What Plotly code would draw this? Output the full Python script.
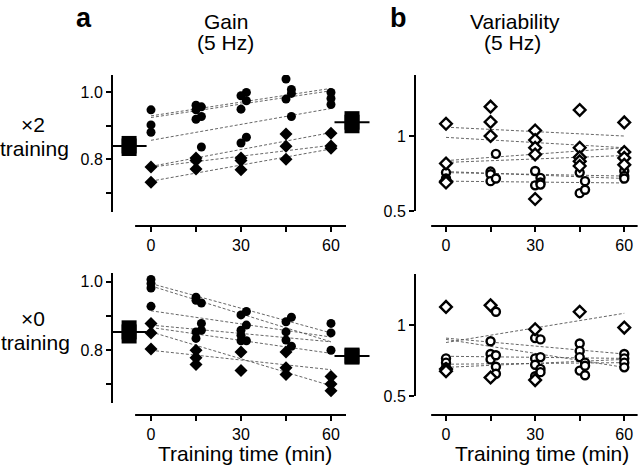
import plotly.graph_objects as go

W, H = 640, 466
FONT = "Liberation Sans, Arial, sans-serif"

# ---- data ----
# Gain x2 training (filled markers)
gain2_circ_t = [0, 0, 0, 15, 15, 15, 16.8, 16.8, 16.8, 30, 30, 31.8, 31.8, 31.8, 30, 45, 45, 46.8, 46.8, 46.8, 60, 60, 60]
gain2_circ_v = [0.948, 0.903, 0.881, 0.962, 0.948, 0.920, 0.957, 0.928, 0.837, 0.990, 0.950, 1.000, 0.975, 0.866, 0.849, 1.040, 0.980, 1.009, 0.997, 0.928, 1.000, 0.982, 0.964]
gain2_diam_t = [0, 0, 15, 15, 15, 30, 30, 30, 45, 45, 45, 60, 60, 60]
gain2_diam_v = [0.777, 0.732, 0.804, 0.797, 0.771, 0.804, 0.797, 0.769, 0.876, 0.839, 0.800, 0.878, 0.840, 0.833]
gain2_fit0 = [0.930, 0.925, 0.857, 0.779, 0.777, 0.735]
gain2_fit60 = [1.012, 1.005, 0.952, 0.880, 0.842, 0.831]
gain2_mean_t = [-7.3, 67]
gain2_mean_v = [0.840, 0.911]
gain2_mean_err = [0.030, 0.033]

# Variability x2 training (open markers)
var2_diam_t = [0, 0, 0, 0, 15, 15, 15, 30, 30, 30, 30, 30, 45, 45, 45, 45, 45, 60, 60, 60, 60]
var2_diam_v = [1.082, 0.817, 0.699, 0.690, 1.196, 1.094, 1.000, 1.037, 0.973, 0.922, 0.877, 0.580, 1.174, 0.922, 0.858, 0.831, 0.800, 1.091, 0.893, 0.854, 0.808]
var2_circ_t = [0, 0, 15, 15, 15, 16.8, 16.8, 30, 30, 31.8, 31.8, 31.8, 45, 45, 46.8, 46.8, 60, 60, 60]
var2_circ_v = [0.756, 0.717, 0.763, 0.745, 0.699, 0.881, 0.717, 0.767, 0.671, 0.721, 0.690, 0.676, 0.756, 0.619, 0.699, 0.642, 0.767, 0.733, 0.717]
var2_fit0 = [1.059, 0.991, 0.836, 0.824, 0.763, 0.756, 0.699]
var2_fit60 = [1.000, 0.922, 0.922, 0.870, 0.717, 0.733, 0.687]

# Gain x0 training (filled markers)
gain0_circ_t = [0, 0, 0, 0, 15, 15, 15, 15, 16.8, 16.8, 16.8, 30, 30, 30, 30, 31.8, 31.8, 31.8, 45, 45, 45, 46.8, 46.8, 60, 60, 60]
gain0_circ_v = [1.007, 0.995, 0.982, 0.928, 0.955, 0.946, 0.853, 0.834, 0.938, 0.878, 0.858, 0.903, 0.858, 0.843, 0.827, 0.913, 0.873, 0.827, 0.883, 0.853, 0.829, 0.896, 0.811, 0.878, 0.850, 0.799]
gain0_diam_t = [0, 0, 0, 15, 15, 15, 30, 30, 45, 45, 45, 60, 60, 60]
gain0_diam_v = [0.878, 0.850, 0.803, 0.799, 0.777, 0.757, 0.794, 0.740, 0.794, 0.748, 0.728, 0.722, 0.700, 0.680]
gain0_fit0 = [0.995, 0.988, 0.915, 0.873, 0.866, 0.853, 0.799]
gain0_fit60 = [0.850, 0.824, 0.838, 0.824, 0.790, 0.695, 0.742]
gain0_mean_t = [-7.3, 67]
gain0_mean_v = [0.853, 0.782]
gain0_mean_err = [0.034, 0.025]

# Variability x0 training (open markers)
var0_diam_t = [0, 0, 0, 15, 15, 30, 30, 45, 60]
var0_diam_v = [1.128, 0.690, 0.675, 1.139, 0.630, 0.971, 0.612, 1.094, 0.982]
var0_circ_t = [0, 0, 0, 15, 15, 15, 16.8, 16.8, 16.8, 16.8, 30, 30, 30, 30, 31.8, 31.8, 31.8, 31.8, 45, 45, 45, 45, 46.8, 46.8, 46.8, 60, 60, 60, 60]
var0_circ_v = [0.765, 0.735, 0.702, 0.886, 0.796, 0.758, 1.094, 0.787, 0.706, 0.657, 0.908, 0.765, 0.720, 0.639, 0.899, 0.774, 0.691, 0.668, 0.870, 0.818, 0.774, 0.679, 0.735, 0.713, 0.646, 0.796, 0.765, 0.735, 0.702]
var0_fit0 = [0.877, 0.908, 0.899, 0.780, 0.724, 0.702]
var0_fit60 = [1.083, 0.796, 0.702, 0.765, 0.735, 0.758]

x_ticks = [0, 15, 30, 45, 60]
x_ticktext = ["0", "", "30", "", "60"]

fig = go.Figure()


def px_x(p):
    return p / W


def px_y(p):
    return 1 - p / H


# panel layout: (axis suffix, x dom px, y dom px (top,bottom), x range, y range, y-line range, x-line range, yticks)
panels = [
    ("", (112, 400), (75, 226), (-13, 83), (0.601, 1.052), (0.643, 1.052), (-5.3, 65),
     [0.7, 0.8, 0.9, 1.0], ["", "0.8", "", "1.0"]),
    ("2", (415, 640), (75, 226), (-10.44, 65.3), (0.40, 1.407), (0.5, 1.407), (-5, 64.5),
     [0.5, 1.0], ["0.5", "1"]),
    ("3", (112, 400), (273, 415), (-13, 83), (0.609, 1.026), (0.644, 1.026), (-5.3, 65),
     [0.7, 0.8, 0.9, 1.0], ["", "0.8", "", "1.0"]),
    ("4", (415, 640), (274, 415), (-10.44, 65.3), (0.366, 1.36), (0.5, 1.36), (-5, 64.5),
     [0.5, 1.0], ["0.5", "1"]),
]

axis_font = dict(family=FONT, size=16, color="black")
for name, xd, yd, xr, yr, yl, xl, ytv, ytt in panels:
    fig.layout["xaxis" + name] = dict(
        domain=[px_x(xd[0]), px_x(xd[1])], range=list(xr), anchor="y" + name,
        showgrid=False, zeroline=False, showline=False,
        tickvals=x_ticks, ticktext=x_ticktext, ticks="outside", ticklen=5,
        tickwidth=1.5, tickcolor="black", tickfont=axis_font,
    )
    fig.layout["yaxis" + name] = dict(
        domain=[px_y(yd[1]), px_y(yd[0])], range=list(yr), anchor="x" + name,
        showgrid=False, zeroline=False, showline=False,
        tickvals=ytv, ticktext=ytt, ticks="outside", ticklen=5,
        tickwidth=1.5, tickcolor="black", tickfont=axis_font,
    )
    # axis lines
    fig.add_shape(type="line", xref="x" + name + " domain", yref="y" + name,
                  x0=0, x1=0, y0=yl[0], y1=yl[1], line=dict(color="black", width=2))
    fig.add_shape(type="line", xref="x" + name, yref="y" + name + " domain",
                  x0=xl[0], x1=xl[1], y0=0, y1=0, line=dict(color="black", width=2))


def add_fits(f0, f60, xa, ya):
    for a, b in zip(f0, f60):
        fig.add_trace(go.Scatter(
            x=[0, 60], y=[a, b], mode="lines", xaxis=xa, yaxis=ya,
            line=dict(color="#555", width=0.9, dash="3px,2px"), hoverinfo="skip"))


def add_points(t, v, symbol, filled, xa, ya):
    if filled:
        mk = dict(symbol=symbol, size=9 if symbol == "circle" else 10, color="black",
                  line=dict(width=0))
    else:
        mk = dict(symbol=symbol, size=8 if symbol == "circle" else 9, color="white",
                  line=dict(width=2.4, color="black"))
    fig.add_trace(go.Scatter(x=t, y=v, mode="markers", xaxis=xa, yaxis=ya, marker=mk))


def add_means(t, v, e, xa, ya):
    fig.add_trace(go.Scatter(
        x=t, y=v, mode="markers", xaxis=xa, yaxis=ya,
        error_y=dict(type="data", array=e, thickness=15, width=0, color="black"),
        marker=dict(symbol="square", size=15, color="black")))
    fig.add_trace(go.Scatter(
        x=t, y=v, mode="markers", xaxis=xa, yaxis=ya,
        marker=dict(symbol="line-ew", size=25, line=dict(width=2, color="black"))))


add_fits(gain2_fit0, gain2_fit60, "x", "y")
add_points(gain2_circ_t, gain2_circ_v, "circle", True, "x", "y")
add_points(gain2_diam_t, gain2_diam_v, "diamond", True, "x", "y")
add_means(gain2_mean_t, gain2_mean_v, gain2_mean_err, "x", "y")

add_fits(var2_fit0, var2_fit60, "x2", "y2")
add_points(var2_circ_t, var2_circ_v, "circle", False, "x2", "y2")
add_points(var2_diam_t, var2_diam_v, "diamond", False, "x2", "y2")

add_fits(gain0_fit0, gain0_fit60, "x3", "y3")
add_points(gain0_circ_t, gain0_circ_v, "circle", True, "x3", "y3")
add_points(gain0_diam_t, gain0_diam_v, "diamond", True, "x3", "y3")
add_means(gain0_mean_t, gain0_mean_v, gain0_mean_err, "x3", "y3")

add_fits(var0_fit0, var0_fit60, "x4", "y4")
add_points(var0_circ_t, var0_circ_v, "circle", False, "x4", "y4")
add_points(var0_diam_t, var0_diam_v, "diamond", False, "x4", "y4")


def label(text, x, y, size=21, bold=False):
    fig.add_annotation(
        text="<b>%s</b>" % text if bold else text, x=px_x(x), y=px_y(y),
        xref="paper", yref="paper", showarrow=False, xanchor="center", yanchor="middle",
        font=dict(family=FONT, size=size, color="black"))


label("a", 84, 18, size=27, bold=True)
label("b", 398, 18, size=27, bold=True)
label("Gain", 226, 21)
label("(5 Hz)", 225, 43)
label("Variability", 515, 21)
label("(5 Hz)", 512, 43)
label("×2", 33, 124)
label("training", 34, 148)
label("×0", 33, 318)
label("training", 35, 342)
label("Training time (min)", 245, 453)
label("Training time (min)", 542, 453)

fig.update_layout(
    width=W, height=H, margin=dict(l=0, r=0, t=0, b=0),
    paper_bgcolor="white", plot_bgcolor="white", showlegend=False,
    font=dict(family=FONT, color="black"),
)

fig.write_html("out.html", config={"displayModeBar": False},
               post_script="document.body.style.margin='0';")
